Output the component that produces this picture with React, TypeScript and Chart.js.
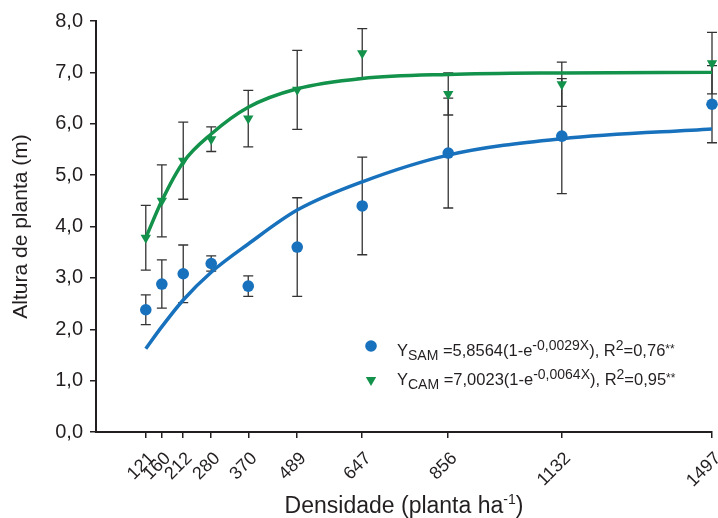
import React, { useEffect, useRef } from "react";
import { Chart, registerables } from "chart.js";

Chart.register(...registerables);

// ---- data ----
const densidade = [121, 160, 212, 280, 370, 489, 647, 856, 1132, 1497];
const samMean = [2.38, 2.88, 3.08, 3.28, 2.84, 3.6, 4.4, 5.43, 5.76, 6.38];
const samErr = [0.29, 0.47, 0.56, 0.15, 0.2, 0.96, 0.95, 1.07, 1.12, 0.75];
const camMean = [3.78, 4.5, 5.28, 5.7, 6.1, 6.66, 7.37, 6.58, 6.77, 7.18];
const camErr = [0.63, 0.7, 0.75, 0.24, 0.55, 0.77, 0.48, 0.41, 0.43, 0.6];
const samFit = [1.62, 2.05, 2.57, 3.11, 3.66, 4.32, 4.87, 5.39, 5.71, 5.9];
const camFit = [3.78, 4.5, 5.25, 5.8, 6.32, 6.68, 6.88, 6.96, 6.99, 7.0];
const yMin = 0;
const yMax = 8;
const yStep = 1;
const yTitle = "Altura de planta (m)";
const xTitleMain = "Densidade (planta ha";
const xTitleSup = "-1";
const xTitleEnd = ")";
const legendSam = [
  ["Y", "main"],
  ["SAM", "sub"],
  [" =5,8564(1-e", "main"],
  ["-0,0029X", "sup"],
  ["), R", "main"],
  ["2", "sup"],
  ["=0,76", "main"],
  ["**", "ast"],
];
const legendCam = [
  ["Y", "main"],
  ["CAM", "sub"],
  [" =7,0023(1-e", "main"],
  ["-0,0064X", "sup"],
  ["), R", "main"],
  ["2", "sup"],
  ["=0,95", "main"],
  ["**", "ast"],
];

const BLUE = "#1771BC";
const GREEN = "#12924A";
const INK = "#231F20";
const FONT = "'Liberation Sans', Arial, Helvetica, sans-serif";

const pts = (ys: number[]) => densidade.map((x, i) => ({ x, y: ys[i] }));

const errorBars = {
  id: "errorBars",
  beforeDatasetsDraw(chart: any) {
    const { ctx, scales } = chart;
    const x = scales.x;
    const y = scales.y;
    ctx.save();
    ctx.strokeStyle = "#333333";
    ctx.lineWidth = 1.3;
    const draw = (means: number[], errs: number[]) => {
      densidade.forEach((d, i) => {
        const px = x.getPixelForValue(d);
        const top = y.getPixelForValue(means[i] + errs[i]);
        const bot = y.getPixelForValue(means[i] - errs[i]);
        ctx.beginPath();
        ctx.moveTo(px, top);
        ctx.lineTo(px, bot);
        ctx.moveTo(px - 5, top);
        ctx.lineTo(px + 5, top);
        ctx.moveTo(px - 5, bot);
        ctx.lineTo(px + 5, bot);
        ctx.stroke();
      });
    };
    draw(samMean, samErr);
    draw(camMean, camErr);
    ctx.restore();
  },
};

const sizes: Record<string, { size: number; dy: number }> = {
  main: { size: 16.5, dy: 0 },
  sub: { size: 14, dy: 4 },
  sup: { size: 14, dy: -6 },
  ast: { size: 12, dy: -3 },
};

function drawRich(ctx: CanvasRenderingContext2D, parts: string[][], x: number, y: number) {
  let cx = x;
  for (const [text, kind] of parts) {
    const s = sizes[kind];
    ctx.font = `${s.size}px ${FONT}`;
    ctx.fillText(text, cx, y + s.dy);
    cx += ctx.measureText(text).width;
  }
}

const extras = {
  id: "extras",
  afterDraw(chart: any) {
    const { ctx, chartArea } = chart;
    ctx.save();
    ctx.fillStyle = INK;
    ctx.textBaseline = "alphabetic";
    ctx.textAlign = "left";

    // x-axis title with superscript
    ctx.font = `23px ${FONT}`;
    const w1 = ctx.measureText(xTitleMain).width;
    ctx.font = `14px ${FONT}`;
    const w2 = ctx.measureText(xTitleSup).width;
    ctx.font = `23px ${FONT}`;
    const w3 = ctx.measureText(xTitleEnd).width;
    const total = w1 + w2 + w3;
    const cx = (chartArea.left + chartArea.right) / 2;
    const by = chart.height - 5;
    let tx = cx - total / 2;
    ctx.fillText(xTitleMain, tx, by);
    tx += w1;
    ctx.font = `14px ${FONT}`;
    ctx.fillText(xTitleSup, tx, by - 9);
    tx += w2;
    ctx.font = `23px ${FONT}`;
    ctx.fillText(xTitleEnd, tx, by);

    // legend
    const mx = chartArea.left + 275;
    const tx0 = chartArea.left + 301;
    const b1 = chartArea.top + 335;
    const b2 = chartArea.top + 364;
    ctx.fillStyle = BLUE;
    ctx.beginPath();
    ctx.arc(mx, b1 - 10, 5.8, 0, Math.PI * 2);
    ctx.fill();
    ctx.fillStyle = GREEN;
    const ty = b2 - 5;
    const r = 6;
    ctx.beginPath();
    ctx.moveTo(mx, ty + r);
    ctx.lineTo(mx - r * 0.866, ty - r / 2);
    ctx.lineTo(mx + r * 0.866, ty - r / 2);
    ctx.closePath();
    ctx.fill();

    ctx.fillStyle = INK;
    drawRich(ctx, legendSam, tx0, b1);
    drawRich(ctx, legendCam, tx0, b2);
    ctx.restore();
  },
};

export default function App() {
  const ref = useRef<HTMLCanvasElement>(null);
  useEffect(() => {
    if (!ref.current) return;
    const chart = new Chart(ref.current, {
      type: "line",
      data: {
        datasets: [
          {
            label: "SAM",
            data: pts(samMean),
            showLine: false,
            pointStyle: "circle",
            pointRadius: 5.8,
            pointBorderWidth: 0,
            pointBackgroundColor: BLUE,
            borderColor: BLUE,
            clip: false,
          } as any,
          {
            label: "CAM",
            data: pts(camMean),
            showLine: false,
            pointStyle: "triangle",
            rotation: 180,
            pointRadius: 6,
            pointBorderWidth: 0,
            pointBackgroundColor: GREEN,
            borderColor: GREEN,
            clip: false,
          } as any,
          {
            label: "SAM ajuste",
            data: pts(samFit),
            borderColor: BLUE,
            borderWidth: 3.5,
            pointRadius: 0,
            cubicInterpolationMode: "monotone",
            fill: false,
            clip: false,
          } as any,
          {
            label: "CAM ajuste",
            data: pts(camFit),
            borderColor: GREEN,
            borderWidth: 3.5,
            pointRadius: 0,
            cubicInterpolationMode: "monotone",
            fill: false,
            clip: false,
          } as any,
        ],
      },
      options: {
        animation: false,
        responsive: false,
        events: [],
        layout: { padding: { top: 21, right: 6, left: 0, bottom: 0 } },
        plugins: {
          legend: { display: false },
          tooltip: { enabled: false },
        },
        scales: {
          x: {
            type: "linear",
            min: 0,
            max: densidade[densidade.length - 1],
            afterBuildTicks: (s: any) => {
              s.ticks = densidade.map((v) => ({ value: v }));
            },
            afterFit: (s: any) => {
              s.height = 86;
              s.paddingLeft = 0;
              s.paddingRight = 0;
            },
            ticks: {
              autoSkip: false,
              minRotation: 45,
              maxRotation: 45,
              padding: 10,
              labelOffset: 6,
              color: INK,
              font: { family: FONT, size: 18 },
              callback: (v: any) => String(v),
            },
            grid: {
              drawOnChartArea: false,
              drawTicks: true,
              tickLength: 6,
              color: INK,
              lineWidth: 1.5,
            },
            border: { display: true, color: INK, width: 2 },
          },
          y: {
            type: "linear",
            min: yMin,
            max: yMax,
            afterFit: (s: any) => {
              s.width = 96;
            },
            ticks: {
              stepSize: yStep,
              padding: 7,
              color: INK,
              font: { family: FONT, size: 20 },
              callback: (v: any) => Number(v).toFixed(1).replace(".", ","),
            },
            grid: {
              drawOnChartArea: false,
              drawTicks: true,
              tickLength: 6,
              color: INK,
              lineWidth: 1.5,
            },
            border: { display: true, color: INK, width: 2 },
            title: {
              display: true,
              text: yTitle,
              color: INK,
              font: { family: FONT, size: 21 },
              padding: { top: 9, bottom: 0 },
            },
          },
        },
      },
      plugins: [errorBars, extras],
    });
    return () => chart.destroy();
  }, []);
  return (
    <div style={{ position: "absolute", left: 0, top: 0, width: 718, height: 518, background: "#fff" }}>
      <canvas ref={ref} width={718} height={518} style={{ display: "block" }} />
    </div>
  );
}
